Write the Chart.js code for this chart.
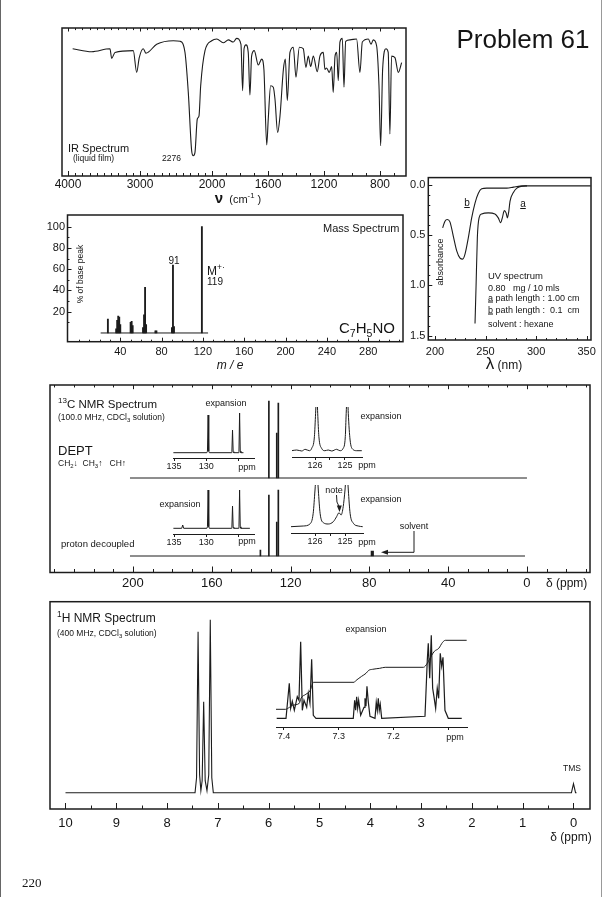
<!DOCTYPE html>
<html>
<head>
<meta charset="utf-8">
<title>Problem 61</title>
<script src="https://cdn.jsdelivr.net/npm/chart.js@4.4.1/dist/chart.umd.min.js"></script>
<style>
  html, body { margin: 0; padding: 0; background: #fff; }
  #page { position: relative; width: 606px; height: 897px; overflow: hidden; background: #fff;
          font-family: "Liberation Sans", Arial, Helvetica, sans-serif; color: #151515; }
  #page canvas { position: absolute; }
  .t { position: absolute; white-space: nowrap; line-height: 1; }
  .cc { transform: translate(-50%, -50%); }
  .lc { transform: translate(0, -50%); }
  .rot { transform: translate(-50%, -50%) rotate(-90deg); }
  sub, sup { font-size: 70%; line-height: 0; }
  .edge { position: absolute; top: 0; width: 1px; height: 897px; background: #666; }
</style>
</head>
<body>
<div id="page">
  <div class="edge" style="left:0"></div>
  <div class="edge" style="left:601px;background:#999"></div>

  <canvas id="ir" width="390" height="190" style="left:40px;top:18px"></canvas>
  <canvas id="ms" width="385" height="160" style="left:30px;top:205px"></canvas>
  <canvas id="uv" width="211" height="197" style="left:395px;top:168px"></canvas>
  <canvas id="c13" width="560" height="215" style="left:40px;top:378px"></canvas>
  <canvas id="c13a" width="101" height="75" style="left:163px;top:400px"></canvas>
  <canvas id="c13b" width="90" height="72" style="left:282px;top:402px"></canvas>
  <canvas id="c13c" width="101" height="68" style="left:163px;top:483px"></canvas>
  <canvas id="c13d" width="92" height="70" style="left:281px;top:480px"></canvas>
  <canvas id="h1" width="560" height="240" style="left:40px;top:595px"></canvas>
  <canvas id="h1x" width="211" height="120" style="left:266px;top:625px"></canvas>

  <svg width="606" height="897" style="position:absolute;left:0;top:0;pointer-events:none">
    <path d="M414 531 V552.3 H386" fill="none" stroke="#1c1c1c" stroke-width="1"/>
    <path d="M381 552.3 L388 549.8 L388 554.8 Z" fill="#1c1c1c"/>
    <path d="M336.5 495 Q336 503 339.3 507" fill="none" stroke="#1c1c1c" stroke-width="1"/>
    <path d="M339.5 512 L336.8 505.5 L341.8 505.5 Z" fill="#1c1c1c"/>
  </svg>

  <div class="t cc" style="left:523px;top:39px;font-size:26px">Problem 61</div>

  <div class="t lc" style="left:68px;top:148px;font-size:11px">IR Spectrum</div>
  <div class="t lc" style="left:73px;top:158px;font-size:8.5px">(liquid film)</div>
  <div class="t lc" style="left:162px;top:158px;font-size:8.5px">2276</div>
  <div class="t cc" style="left:238px;top:197px;font-size:11px"><b style="font-size:15px">ν</b>&nbsp; (cm<sup>-1</sup> )</div>

  <div class="t lc" style="left:323px;top:228px;font-size:11px">Mass Spectrum</div>
  <div class="t cc" style="left:174px;top:261px;font-size:10px">91</div>
  <div class="t lc" style="left:207px;top:271px;font-size:12px">M<sup>+·</sup></div>
  <div class="t lc" style="left:207px;top:282px;font-size:10px">119</div>
  <div class="t lc" style="left:339px;top:327px;font-size:15px">C<sub>7</sub>H<sub>5</sub>NO</div>
  <div class="t rot" style="left:80px;top:274px;font-size:8.5px">% of base peak</div>
  <div class="t cc" style="left:230px;top:365px;font-size:12px;font-style:italic">m / e</div>

  <div class="t cc" style="left:467px;top:203px;font-size:10px;text-decoration:underline">b</div>
  <div class="t cc" style="left:523px;top:204px;font-size:10px;text-decoration:underline">a</div>
  <div class="t rot" style="left:440px;top:262px;font-size:9px">absorbance</div>
  <div class="t lc" style="left:488px;top:276px;font-size:9.5px">UV spectrum</div>
  <div class="t lc" style="left:488px;top:287.5px;font-size:9px">0.80&nbsp;&nbsp; mg / 10 mls</div>
  <div class="t lc" style="left:488px;top:298px;font-size:9px"><u>a</u> path length : 1.00 cm</div>
  <div class="t lc" style="left:488px;top:310px;font-size:9px"><u>b</u> path length :&nbsp; 0.1&nbsp; cm</div>
  <div class="t lc" style="left:488px;top:324px;font-size:9px">solvent : hexane</div>
  <div class="t cc" style="left:504px;top:363px;font-size:12px"><span style="font-size:17px">λ</span> (nm)</div>

  <div class="t lc" style="left:58px;top:405px;font-size:11.5px"><sup>13</sup>C NMR Spectrum</div>
  <div class="t lc" style="left:58px;top:417px;font-size:8.5px">(100.0 MHz, CDCl<sub>3</sub> solution)</div>
  <div class="t lc" style="left:58px;top:450px;font-size:13px">DEPT</div>
  <div class="t lc" style="left:58px;top:463px;font-size:8.5px">CH<sub>2</sub>↓&nbsp; CH<sub>3</sub>↑&nbsp;&nbsp; CH↑</div>
  <div class="t cc" style="left:226px;top:403px;font-size:9px">expansion</div>
  <div class="t cc" style="left:381px;top:416px;font-size:9px">expansion</div>
  <div class="t cc" style="left:180px;top:504px;font-size:9px">expansion</div>
  <div class="t cc" style="left:381px;top:499px;font-size:9px">expansion</div>
  <div class="t cc" style="left:334px;top:490px;font-size:9px">note</div>
  <div class="t cc" style="left:414px;top:526px;font-size:9px">solvent</div>
  <div class="t lc" style="left:61px;top:543.5px;font-size:9.5px">proton decoupled</div>
  <div class="t lc" style="left:546px;top:583px;font-size:12px">δ (ppm)</div>
  <div class="t cc" style="left:247px;top:467px;font-size:9px">ppm</div>
  <div class="t cc" style="left:367px;top:465px;font-size:9px">ppm</div>
  <div class="t cc" style="left:247px;top:541px;font-size:9px">ppm</div>
  <div class="t cc" style="left:367px;top:542px;font-size:9px">ppm</div>

  <div class="t lc" style="left:57px;top:618px;font-size:12px"><sup>1</sup>H NMR Spectrum</div>
  <div class="t lc" style="left:57px;top:633px;font-size:8.5px">(400 MHz, CDCl<sub>3</sub> solution)</div>
  <div class="t cc" style="left:366px;top:629px;font-size:9px">expansion</div>
  <div class="t cc" style="left:572px;top:768px;font-size:8.5px">TMS</div>
  <div class="t cc" style="left:455px;top:737px;font-size:9px">ppm</div>
  <div class="t cc" style="left:571px;top:837px;font-size:12px">δ (ppm)</div>
  <div class="t lc" style="left:22px;top:882px;font-size:13px;font-family:'Liberation Serif',serif">220</div>
</div>

<script>
// ---- IR spectrum: wavenumber (cm-1) / transmittance (%)
const irWavenumber = [3935, 3671, 3417, 3393, 3347, 3093, 3046, 3010, 2954, 2917, 2768, 2537, 2444, 2375, 2329,
  2282, 2260, 2236, 2204, 2180, 2157, 2097, 2004, 1966, 1919, 1883, 1848, 1824, 1793, 1781, 1771, 1757, 1741,
  1729, 1717, 1698, 1669, 1645, 1629, 1609, 1598, 1581, 1562, 1550, 1531, 1514, 1490, 1476, 1462, 1443, 1419,
  1400, 1376, 1348, 1329, 1312, 1295, 1276, 1248, 1229, 1205, 1193, 1181, 1162, 1145, 1134, 1121, 1109, 1098,
  1086, 1069, 1057, 1045, 1014, 967, 943, 926, 883, 864, 848, 824, 807, 795, 781, 757, 741, 729, 717, 693, 669, 645];
const irTransmittance = [86, 84, 86, 79.5, 83.5, 84.7, 70, 80, 86, 83, 89, 91.4, 91, 83.5, 56.5,
  17, 13.7, 16, 38.5, 40.7, 61, 84.7, 91.4, 92.6, 90, 92, 90.5, 93, 89, 57.7, 86, 88.6, 83.5,
  54.7, 81, 84.7, 75, 79, 72, 21, 38.5, 61, 60, 52, 29.5, 40.7, 72, 79, 51, 83.5, 87,
  66.7, 87, 86, 73.4, 81, 74, 81, 70.5, 81, 83.5, 72, 73, 70, 74, 56.5, 81, 83.5, 64.4,
  90.5, 93, 60, 91, 92, 92.6, 70, 90.5, 92.6, 89, 92, 88, 61, 20.5, 72, 86, 83.5, 28.4, 81, 80, 70, 76.6];
const irTickLabels = [4000, 3000, 2000, 1600, 1200, 800];

// ---- mass spectrum
const msMass = [28, 36, 37, 38, 39, 40, 50, 51, 52, 62, 63, 64, 65, 74, 75, 90, 91, 92, 119];
const msIntensity = [13, 4, 12, 16, 15, 8, 10, 11, 7, 5, 17, 43, 8, 2, 2, 5, 64, 6, 100];
const msBaselineRange = [21, 125];
const msTickLabels = [40, 80, 120, 160, 200, 240, 280];
const msYTickLabels = [20, 40, 60, 80, 100];

// ---- UV spectrum (a: 1.00 cm path, b: 0.1 cm path)
const uvWavelengthA = [239.6, 240.6, 241.9, 243.6, 246.2, 252.8, 259.3, 262.6, 265.0, 266.6, 268.6, 270.3,
  271.6, 273.0, 274.2, 277.7, 281.0, 286.0, 291.0];
const uvAbsorbanceA = [1.378, 1.018, 0.525, 0.328, 0.289, 0.279, 0.289, 0.328, 0.377, 0.328, 0.256, 0.279,
  0.328, 0.263, 0.164, 0.073, 0.033, 0.013, 0.010];
const uvWavelengthB = [207.6, 209.9, 212.2, 214.8, 218.1, 221.5, 224.8, 227.4, 229.7, 233.0, 236.3, 239.6,
  242.9, 246.2, 251.2, 271.0, 277.7, 284.3, 290.9, 354.0];
const uvAbsorbanceB = [0.427, 0.361, 0.345, 0.368, 0.509, 0.656, 0.728, 0.738, 0.689, 0.525, 0.328, 0.181,
  0.083, 0.039, 0.033, 0.033, 0.023, 0.013, 0.010, 0.010];
const uvTickLabels = [200, 250, 300, 350];
const uvYTickLabels = [0, 0.5, 1.0, 1.5];

// ---- 13C NMR
const c13PeakShift = [135.3, 131.0, 127.0, 126.2];
const c13DecoupledHeight = [6, 61, 34, 66];
const c13DeptShift = [131.0, 127.0, 126.2];
const c13DeptHeight = [77, 45, 75];
const c13SolventShift = [78.5];
const c13SolventHeight = [5];
const c13BaselineRange = [201.5, 0];
const c13TickLabels = [200, 160, 120, 80, 40, 0];
// expansions
const c13DeptExpShift = [135.1, 129.9, 129.8, 129.7, 129.6, 129.5, 126.1, 126.0, 125.9, 125.8, 125.7,
  125.0, 124.9, 124.8, 124.7, 124.6, 124.2];
const c13DeptExpHeight = [0, 0, 1.5, 37.7, 1.5, 0, 0, 1, 22.7, 1, 0, 0, 1.5, 39.7, 1.5, 0, 0];
const c13DeptZoomShift = [126.78, 126.61, 126.44, 126.33, 126.19, 126.11, 126.02, 125.98, 125.94, 125.91,
  125.87, 125.78, 125.67, 125.56, 125.44, 125.28, 125.17, 125.06, 124.99, 124.96, 124.92, 124.89, 124.83,
  124.74, 124.61, 124.44];
const c13DeptZoomHeight = [-0.7, 0, -1, 0.7, -0.7, 1.7, 13.3, 36.7, 60, 36.7,
  13.3, 1.7, -0.7, 0, -1, 0.7, -0.7, 1.7, 13.3, 36.7, 60, 36.7, 10,
  0.7, -0.7, -0.7];
const c13DecExpShift = [135.1, 133.8, 133.65, 133.5, 129.9, 129.8, 129.7, 129.6, 129.5, 126.1, 126.0,
  125.9, 125.8, 125.7, 125.0, 124.9, 124.8, 124.7, 124.6, 123.2];
const c13DecExpHeight = [0, 0, 3.3, 0, 0, 1.5, 38.3, 1.5, 0, 0, 1, 22.3, 1, 0, 0, 1.5, 38.3, 1.5, 0, 0];
const c13DecZoomShift = [126.81, 126.39, 126.17, 126.06, 126.0, 125.94, 125.89, 125.83, 125.72, 125.56,
  125.39, 125.28, 125.2, 125.13, 125.06, 125.0, 124.94, 124.89, 124.83, 124.72, 124.56, 124.41];
const c13DecZoomHeight = [0, 0.7, 2.7, 13.4, 36.7, 60, 36.7, 13.4, 4, 2.7,
  5, 10, 14, 11.7, 20, 36.7, 60, 36.7, 13.4, 3.4, 0.7, 0];

// ---- 1H NMR
const h1Shift = [10.0, 7.45, 7.42, 7.39, 7.36, 7.335, 7.31, 7.28, 7.25, 7.215, 7.18, 7.15, 7.12, 7.09,
  0.04, 0.0, -0.04, -0.06];
const h1Height = [0, 0, 15, 161, 18, 2, 12, 91, 12, 2, 18, 173, 15, 0, 0, 9, 0, 0];
const h1TickLabels = [10, 9, 8, 7, 6, 5, 4, 3, 2, 1, 0];
// expansion 7.41 - 7.07 ppm
const h1ExpShift = [7.4133, 7.3963, 7.3903, 7.3878, 7.3848, 7.3811, 7.3757, 7.3726, 7.3695, 7.3665, 7.3634,
  7.3585, 7.3556, 7.3525, 7.3494, 7.3464, 7.3415, 7.2733, 7.2708, 7.2690, 7.2671, 7.2653, 7.2635, 7.2598,
  7.2537, 7.2519, 7.2501, 7.2483, 7.2458, 7.2428, 7.2336, 7.2313, 7.2294, 7.2276, 7.2258, 7.2240, 7.2214,
  7.1422, 7.1380, 7.1362, 7.1336, 7.1307, 7.1282, 7.1258, 7.1227, 7.1198, 7.1172, 7.1143, 7.1117, 7.1093,
  7.1057, 7.0996, 7.075];
const h1ExpHeight = [0, 0, 35, 10, 17, 8, 21.6, 18, 76.6, 8, 18,
  11, 25, 15, 59, 3, 0, 0, 18, 8, 21.6, 10, 18, 3,
  11, 20, 12, 32, 16, 2, 0, 16, 8, 20, 8, 14, 0,
  2, 58, 75, 40, 83, 30, 21.6, 10, 30, 20, 65, 52, 61,
  8, 0, 0];
const h1IntShift = [7.4146, 7.397, 7.390, 7.385, 7.372, 7.369, 7.360, 7.352, 7.349, 7.346, 7.272, 7.268,
  7.263, 7.258, 7.250, 7.245, 7.238, 7.225, 7.215, 7.145, 7.138, 7.130, 7.125, 7.117, 7.110, 7.105, 7.066];
const h1IntHeight = [9, 9, 11, 13, 15, 20, 24, 28, 33, 36, 36, 38,
  40, 42, 45, 48, 49, 50, 51, 51, 55, 63, 67, 70, 76, 78, 78];
const h1ExpTickLabels = [7.4, 7.3, 7.2];

// ---------------------------------------------------------------
const INK = '#1c1c1c';
Chart.defaults.font.family = '"Liberation Sans", Arial, Helvetica, sans-serif';
Chart.defaults.color = '#151515';

// IR axis is compressed above 2000 cm-1, like the printed chart
const IR_LEFT = 4083, IR_BREAK = 2000, IR_RIGHT = 614, IR_BREAK_FRAC = 0.436;
function irDecimal(v) {
  return v >= IR_BREAK
    ? (IR_LEFT - v) / (IR_LEFT - IR_BREAK) * IR_BREAK_FRAC
    : IR_BREAK_FRAC + (IR_BREAK - v) / (IR_BREAK - IR_RIGHT) * (1 - IR_BREAK_FRAC);
}
class IrScale extends Chart.LinearScale {
  getPixelForValue(v) { return this.getPixelForDecimal(irDecimal(v)); }
  getValueForPixel(p) {
    const d = this.getDecimalForPixel(p);
    return d <= IR_BREAK_FRAC
      ? IR_LEFT - d / IR_BREAK_FRAC * (IR_LEFT - IR_BREAK)
      : IR_BREAK - (d - IR_BREAK_FRAC) / (1 - IR_BREAK_FRAC) * (IR_BREAK - IR_RIGHT);
  }
}
IrScale.id = 'irscale';
IrScale.defaults = Chart.LinearScale.defaults;
Chart.register(IrScale);

// box round the plot area with inward tick marks
const framePlugin = {
  id: 'frame',
  afterDraw(chart, args, o) {
    const a = chart.chartArea, ctx = chart.ctx, sx = chart.scales.x;
    ctx.save();
    ctx.strokeStyle = INK;
    ctx.lineWidth = 1.5;
    ctx.strokeRect(a.left, a.top, a.right - a.left, a.bottom - a.top);
    ctx.lineWidth = 1;
    ctx.beginPath();
    sx.ticks.forEach(t => {
      const px = Math.round(sx.getPixelForValue(t.value)) + 0.5;
      const len = t.label ? o.major : o.minor;
      ctx.moveTo(px, a.bottom); ctx.lineTo(px, a.bottom - len);
      if (o.top) { ctx.moveTo(px, a.top); ctx.lineTo(px, a.top + len * 0.7); }
    });
    if (o.yScale) {
      const sy = chart.scales[o.yScale];
      sy.ticks.forEach(t => {
        const py = Math.round(sy.getPixelForValue(t.value)) + 0.5;
        ctx.moveTo(a.left, py); ctx.lineTo(a.left + (t.label ? o.major : o.minor), py);
      });
    }
    ctx.stroke();
    ctx.restore();
  }
};

const pts = (xs, ys) => xs.map((x, i) => ({x, y: ys[i]}));
const near = (list, v) => list.some(l => Math.abs(l - v) < 1e-6);
function range(from, to, step) {
  const out = [], n = Math.round((to - from) / step);
  for (let i = 0; i <= n; i++) out.push(Math.round((from + i * step) * 1000) / 1000);
  return out;
}

function lineSet(data, width, smooth, yAxisID) {
  return { type: 'line', data, yAxisID: yAxisID || 'y', borderColor: INK, borderWidth: width,
           pointRadius: 0, fill: false, tension: 0,
           cubicInterpolationMode: smooth ? 'monotone' : 'default' };
}
function stickSet(data, thick, yAxisID) {
  return { type: 'bar', data, yAxisID: yAxisID || 'y', backgroundColor: INK, borderWidth: 0,
           barThickness: thick, grouped: false };
}

function xAxis(o) {
  return {
    type: o.type || 'linear', position: 'bottom', min: o.min, max: o.max, reverse: !!o.reverse,
    offset: false, bounds: 'data',
    grid: o.inset ? { display: true, drawOnChartArea: false, drawTicks: true, tickLength: 3, color: INK }
                  : { display: false, drawTicks: false },
    border: o.inset ? { display: true, color: INK, width: 1 } : { display: false },
    afterBuildTicks: s => { s.ticks = o.ticks.map(v => ({ value: v })); },
    afterFit: s => { s.height = o.height; },
    ticks: { autoSkip: false, maxRotation: 0, minRotation: 0, padding: o.pad, font: { size: o.size },
             callback: v => o.label(v) }
  };
}
function yAxis(o) {
  return {
    type: 'linear', position: 'left', min: o.min, max: o.max, reverse: !!o.reverse, bounds: 'data',
    grid: { display: false, drawTicks: false }, border: { display: false },
    afterBuildTicks: s => { s.ticks = o.ticks.map(v => ({ value: v })); },
    afterFit: s => { s.width = o.width; },
    ticks: { autoSkip: false, padding: o.pad, font: { size: o.size }, callback: v => o.label(v) }
  };
}
const hiddenY = (min, max, reverse) => ({ type: 'linear', display: false, min, max, reverse: !!reverse });

function options(padding, scales, frame) {
  return {
    responsive: false, animation: false, events: [], devicePixelRatio: 1,
    layout: { padding: Object.assign({ left: 0, top: 0, right: 0, bottom: 0 }, padding) },
    scales,
    plugins: { legend: { display: false }, tooltip: { enabled: false }, frame: frame || false }
  };
}
function make(id, type, datasets, opts, framed) {
  return new Chart(document.getElementById(id), {
    type, data: { datasets }, options: opts, plugins: framed ? [framePlugin] : []
  });
}

// ---- IR
make('ir', 'line',
  [lineSet(pts(irWavenumber, irTransmittance), 1.1, true)],
  options({ left: 22, top: 10, right: 24 }, {
    x: xAxis({ type: 'irscale', min: IR_RIGHT, max: IR_LEFT, ticks: range(700, 4000, 100).reverse(),
               label: v => near(irTickLabels, v) ? String(v) : '', size: 12, height: 32, pad: 1 }),
    y: hiddenY(0, 100)
  }, { major: 5, minor: 3, top: true }), true);

// ---- mass spectrum
make('ms', 'bar',
  [stickSet(pts(msMass, msIntensity), 1.2),
   lineSet(pts(msBaselineRange, [0, 0]), 1, false)],
  options({ top: 10, right: 12 }, {
    x: xAxis({ min: -11.1, max: 313.7, ticks: range(0, 310, 10),
               label: v => near(msTickLabels, v) ? String(v) : '', size: 11, height: 23.3, pad: 3.4 }),
    y: yAxis({ min: -8.2, max: 111, ticks: range(10, 100, 10),
               label: v => near(msYTickLabels, v) ? String(v) : '', size: 11, width: 37.5, pad: 2.5 })
  }, { major: 4, minor: 2, yScale: 'y' }), true);

// ---- UV
make('uv', 'line',
  [lineSet(pts(uvWavelengthB, uvAbsorbanceB), 1.1, true),
   lineSet(pts(uvWavelengthA, uvAbsorbanceA), 1.1, true)],
  options({ top: 8, right: 15 }, {
    x: xAxis({ min: 193.4, max: 354.3, ticks: range(200, 350, 10),
               label: v => near(uvTickLabels, v) ? String(v) : '', size: 11, height: 25, pad: 5 }),
    y: yAxis({ min: -0.072, max: 1.542, reverse: true, ticks: range(0, 1.5, 0.1),
               label: v => near(uvYTickLabels, v) ? v.toFixed(1) : '', size: 11, width: 33.3, pad: 3 })
  }, { major: 4, minor: 2, yScale: 'y' }), true);

// ---- 13C main (DEPT trace above, proton decoupled below)
make('c13', 'bar',
  [stickSet(pts(c13DeptShift, c13DeptHeight), 1, 'yDept'),
   lineSet(pts(c13BaselineRange, [0, 0]), 1, false, 'yDept'),
   stickSet(pts(c13PeakShift, c13DecoupledHeight), 1, 'yDec'),
   stickSet(pts(c13SolventShift, c13SolventHeight), 2.5, 'yDec'),
   lineSet(pts([c13BaselineRange[0], 1], [0, 0]), 1, false, 'yDec')],
  options({ left: 10, top: 7, right: 10 }, {
    x: xAxis({ min: -32, max: 242.1, reverse: true, ticks: range(-30, 240, 10).reverse(),
               label: v => near(c13TickLabels, v) ? String(v) : '', size: 13, height: 20.5, pad: 3 }),
    yDept: Object.assign(hiddenY(-94.5, 93), { axis: 'y' }),
    yDec: Object.assign(hiddenY(-16.5, 171), { axis: 'y' })
  }, { major: 6, minor: 3.5, top: true }), true);

function insetAxis(min, max, ticks, labels, height, pad) {
  return xAxis({ inset: true, min, max, reverse: true, ticks,
                 label: v => near(labels, v) ? String(v) : '', size: 9, height, pad });
}
make('c13a', 'line', [lineSet(pts(c13DeptExpShift, c13DeptExpHeight), 1, false)],
  options({ left: 10, top: 5, right: 10 }, {
    x: insetAxis(122.56, 135.16, [135, 130, 125], [135, 130], 17, 0.6), y: hiddenY(-5.3, 47.7) }));
make('c13b', 'line', [lineSet(pts(c13DeptZoomShift, c13DeptZoomHeight), 1, true)],
  options({ left: 10, top: 5, right: 10 }, {
    x: insetAxis(124.433, 126.767, [126, 125.5, 125], [126, 125], 17, 0), y: hiddenY(-7, 43) }));
make('c13c', 'line', [lineSet(pts(c13DecExpShift, c13DecExpHeight), 1, false)],
  options({ left: 10, top: 5, right: 10 }, {
    x: insetAxis(122.56, 135.16, [135, 130, 125], [135, 130], 17, 0), y: hiddenY(-5.7, 40.3) }));
make('c13d', 'line', [lineSet(pts(c13DecZoomShift, c13DecZoomHeight), 1, true)],
  options({ left: 10, top: 5, right: 10 }, {
    x: insetAxis(124.4, 126.8, [126, 125.5, 125], [126, 125], 17, 0.3), y: hiddenY(-6.3, 41.7) }));

// ---- 1H main
make('h1', 'line', [lineSet(pts(h1Shift, h1Height), 1.1, false)],
  options({ left: 10, top: 6.7, right: 10 }, {
    x: xAxis({ min: -0.325, max: 10.305, reverse: true, ticks: range(0, 10, 0.5).reverse(),
               label: v => near(h1TickLabels, v) ? String(v) : '', size: 13, height: 26, pad: 7 }),
    y: hiddenY(-16.3, 191)
  }, { major: 6, minor: 3.5 }), true);

// ---- 1H expansion with integral
make('h1x', 'line',
  [lineSet(pts(h1ExpShift, h1ExpHeight), 1.2, false),
   lineSet(pts(h1IntShift, h1IntHeight), 1, true)],
  options({ left: 10, top: 5, right: 10 }, {
    x: xAxis({ inset: true, min: 7.0654, max: 7.4146, reverse: true, ticks: [7.4, 7.3, 7.2, 7.1],
               label: v => near(h1ExpTickLabels, v) ? v.toFixed(1) : '', size: 9, height: 18, pad: 1.6 }),
    y: hiddenY(-8.7, 88.3)
  }));
</script>
</body>
</html>
